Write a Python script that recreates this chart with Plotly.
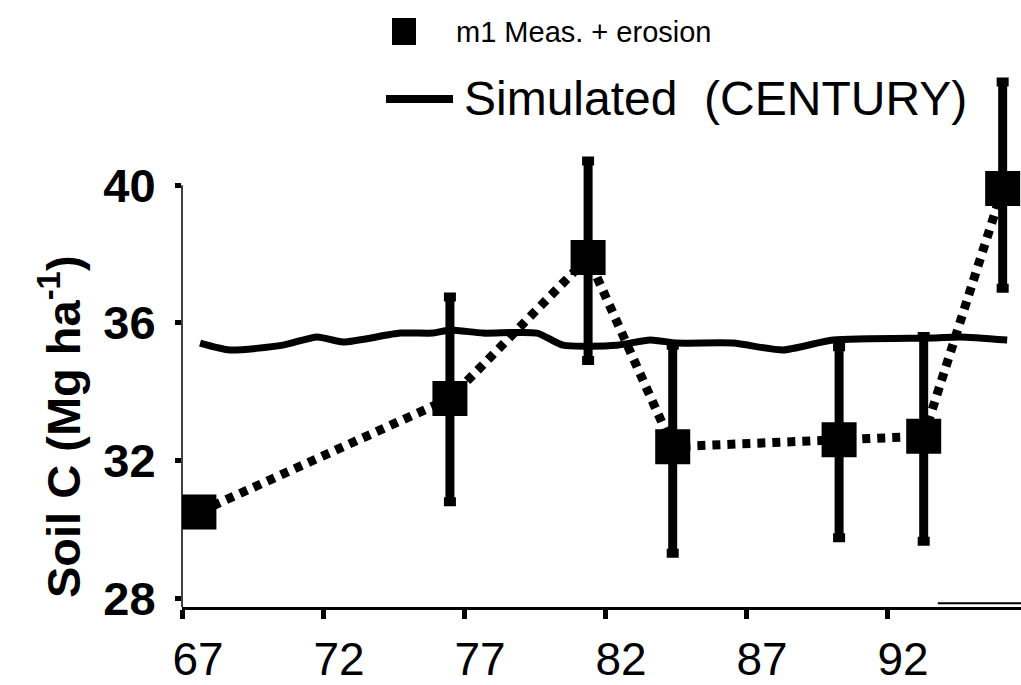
import plotly.graph_objects as go

# ---- data ----
meas_year = [67.6, 76.5, 81.4, 84.4, 90.3, 93.3, 96.1]
meas_c = [30.5, 33.8, 37.9, 32.4, 32.6, 32.7, 39.9]
err_plus = [0.0, 2.95, 2.8, 2.95, 2.7, 2.9, 3.1]
err_minus = [0.0, 3.0, 3.0, 3.1, 2.85, 3.05, 2.9]

sim_year = [67.64, 68.7, 70.58, 71.79, 72.71, 74.73, 75.9, 76.5, 77.67, 79.59,
            80.51, 82.43, 83.6, 84.55, 86.54, 88.31, 90.09, 93.63, 94.59, 96.26]
sim_c = [35.41, 35.21, 35.35, 35.59, 35.44, 35.70, 35.70, 35.79, 35.70, 35.70,
         35.35, 35.35, 35.50, 35.41, 35.41, 35.21, 35.50, 35.56, 35.59, 35.50]

stray_year = [93.8, 96.75]
stray_c = [27.85, 27.85]

x_ticks = [67, 72, 77, 82, 87, 92]
y_ticks = [28, 32, 36, 40]

legend_meas = "m1 Meas. + erosion"
legend_sim = "Simulated\u00a0 (CENTURY)"
y_title = "Soil C (Mg ha<sup>-1</sup>)"

# ---- layout geometry (pixels) ----
W, H = 1021, 685
L, R, T, B = 182, 0, 0, 78
PW, PH = W - L - R, H - T - B


def px(p):
    return (p - L) / PW


def py(p):
    return (H - B - p) / PH


REG = "Liberation Sans, Arial"

fig = go.Figure()

fig.add_trace(go.Scatter(
    x=sim_year, y=sim_c, mode="lines",
    line=dict(color="black", width=7, shape="spline", smoothing=0.6),
    showlegend=False, hoverinfo="skip"))

fig.add_trace(go.Scatter(
    x=stray_year, y=stray_c, mode="lines",
    line=dict(color="black", width=2),
    showlegend=False, hoverinfo="skip"))

fig.add_trace(go.Scatter(
    x=meas_year, y=meas_c, mode="lines+markers",
    line=dict(color="black", width=9, dash="8px,7px"),
    marker=dict(symbol="square", size=35, color="black"),
    error_y=dict(type="data", symmetric=False, array=err_plus,
                 arrayminus=err_minus, color="black", thickness=9, width=6),
    showlegend=False))

fig.update_layout(
    width=W, height=H,
    margin=dict(l=L, r=R, t=T, b=B, pad=0, autoexpand=False),
    paper_bgcolor="white", plot_bgcolor="white",
    xaxis=dict(range=[67, 96.75], tickvals=x_ticks,
               ticktext=[str(v) for v in x_ticks],
               automargin=False,
               showgrid=False, zeroline=False,
               showline=True, linecolor="black", linewidth=3,
               ticks="outside", ticklen=9, tickwidth=5, tickcolor="black",
               ticklabelshift=16, ticklabelstandoff=1,
               tickfont=dict(family=REG, size=46, color="black")),
    yaxis=dict(range=[27.74, 45.38], tickvals=y_ticks,
               ticktext=[str(v) for v in y_ticks],
               automargin=False,
               showgrid=False, zeroline=False, showline=False,
               ticks="outside", ticklen=6, tickwidth=5, tickcolor="black",
               ticklabelstandoff=10,
               tickfont=dict(family=REG, size=47, color="black", weight="bold")),
    shapes=[
        # y axis line (from bottom up to the top tick)
        dict(type="line", xref="paper", yref="y", x0=0, x1=0,
             y0=27.74, y1=y_ticks[-1], line=dict(color="black", width=1.5)),
        # legend symbols
        dict(type="rect", xref="paper", yref="paper",
             x0=px(392), x1=px(416), y0=py(45), y1=py(18),
             fillcolor="black", line=dict(width=0)),
        dict(type="line", xref="paper", yref="paper",
             x0=px(386), x1=px(453), y0=py(99), y1=py(99),
             line=dict(color="black", width=8)),
    ],
    annotations=[
        dict(text=legend_meas, xref="paper", yref="paper",
             x=px(454), y=py(32), xanchor="left", yanchor="middle",
             showarrow=False,
             font=dict(family=REG, size=29, color="black")),
        dict(text=legend_sim, xref="paper", yref="paper",
             x=px(462), y=py(98), xanchor="left", yanchor="middle",
             showarrow=False,
             font=dict(family=REG, size=48, color="black")),
        dict(text=y_title, xref="paper", yref="paper",
             x=px(60), y=py(427), xanchor="center", yanchor="middle",
             textangle=-90, showarrow=False,
             font=dict(family=REG, size=47, color="black", weight="bold")),
    ],
)

fig.write_html("out.html")
